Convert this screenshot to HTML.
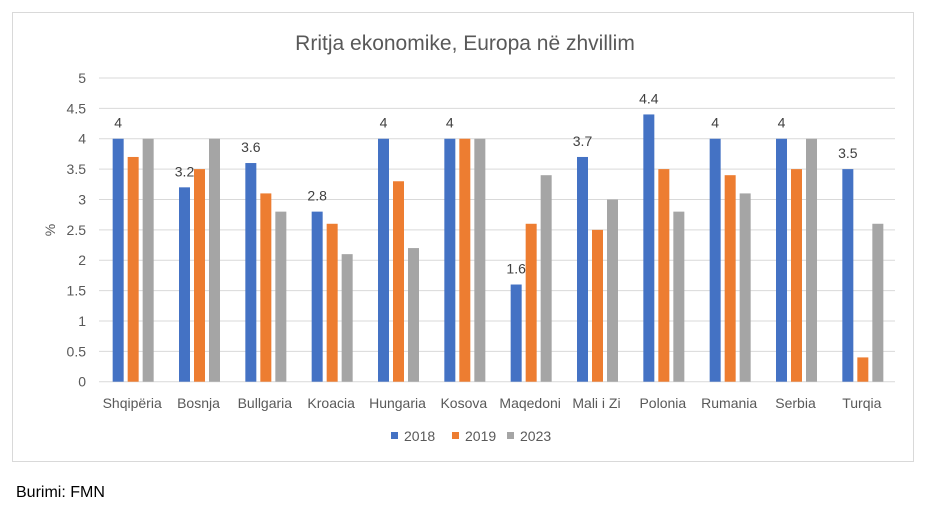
<!DOCTYPE html>
<html><head><meta charset="utf-8"><style>
body{margin:0;background:#fff;width:929px;height:512px;overflow:hidden;font-family:"Liberation Sans",sans-serif}
</style></head><body>
<svg width="929" height="512" id="svg" font-family="Liberation Sans, sans-serif">
<rect x="12.5" y="12.5" width="901" height="449" fill="#fff" stroke="#d9d9d9"/>
<text x="465" y="50" text-anchor="middle" font-size="21" fill="#595959">Rritja ekonomike, Europa në zhvillim</text>
<text transform="translate(55,230) rotate(-90)" text-anchor="middle" font-size="14" fill="#595959">%</text>
<g id="grid"></g><g id="bars"></g><g id="labels"></g>
<g>
<rect x="391" y="432" width="7" height="7" fill="#4472c4"/>
<text x="404" y="441" font-size="14" fill="#595959">2018</text>
<rect x="452" y="432" width="7" height="7" fill="#ed7d31"/>
<text x="465" y="441" font-size="14" fill="#595959">2019</text>
<rect x="507" y="432" width="7" height="7" fill="#a5a5a5"/>
<text x="520" y="441" font-size="14" fill="#595959">2023</text>
</g>
<text x="16" y="497" font-size="16" fill="#000">Burimi: FMN</text>
</svg>
<script>
const categories=["Shqipëria","Bosnja","Bullgaria","Kroacia","Hungaria","Kosova","Maqedoni","Mali i Zi","Polonia","Rumania","Serbia","Turqia"];
const s2018=[4,3.2,3.6,2.8,4,4,1.6,3.7,4.4,4,4,3.5];
const s2019=[3.7,3.5,3.1,2.6,3.3,4,2.6,2.5,3.5,3.4,3.5,0.4];
const s2023=[4,4,2.8,2.1,2.2,4,3.4,3,2.8,3.1,4,2.6];
const yTicks=[0,0.5,1,1.5,2,2.5,3,3.5,4,4.5,5];
const NS="http://www.w3.org/2000/svg";
const x0=99,x1=895,y0=381.7,y5=78;
const cw=(x1-x0)/categories.length;
const y=v=>y0-(y0-y5)*v/5;
const xc=i=>x0+cw*(i+0.5);
function mk(t,a,p){const e=document.createElementNS(NS,t);for(const k in a)e.setAttribute(k,a[k]);p.appendChild(e);return e;}
const grid=document.getElementById('grid'),bars=document.getElementById('bars'),labels=document.getElementById('labels');
yTicks.forEach(v=>{
 const l=mk('line',{x1:x0,x2:x1,y1:y(v),y2:y(v),stroke:'#d9d9d9','stroke-width':1},grid);
 
 
 const t=mk('text',{x:86,y:y(v)+5,'text-anchor':'end','font-size':14,fill:'#595959'},grid);
 t.textContent=v;
 
 
});
const series=[[s2018,'#4472c4','2018'],[s2019,'#ed7d31','2019'],[s2023,'#a5a5a5','2023']];
const bw=11,gap=4;
categories.forEach((c,i)=>{
 series.forEach(([d,col,nm],j)=>{
  const bx=xc(i)+1-(bw*1.5+gap)+j*(bw+gap);
  const r=mk('rect',{x:bx,y:y(d[i]),width:bw,height:y0-y(d[i]),fill:col},bars);
  
  
  if(j===0){
   const t=mk('text',{x:bx+bw/2,y:y(d[i])-11,'text-anchor':'middle','font-size':14,fill:'#404040'},labels);
   t.textContent=d[i];
   
   
  }
 });
 const t=mk('text',{x:xc(i),y:408,'text-anchor':'middle','font-size':14,fill:'#595959'},labels);
 t.textContent=c;
 
 
});
</script>
</body></html>
